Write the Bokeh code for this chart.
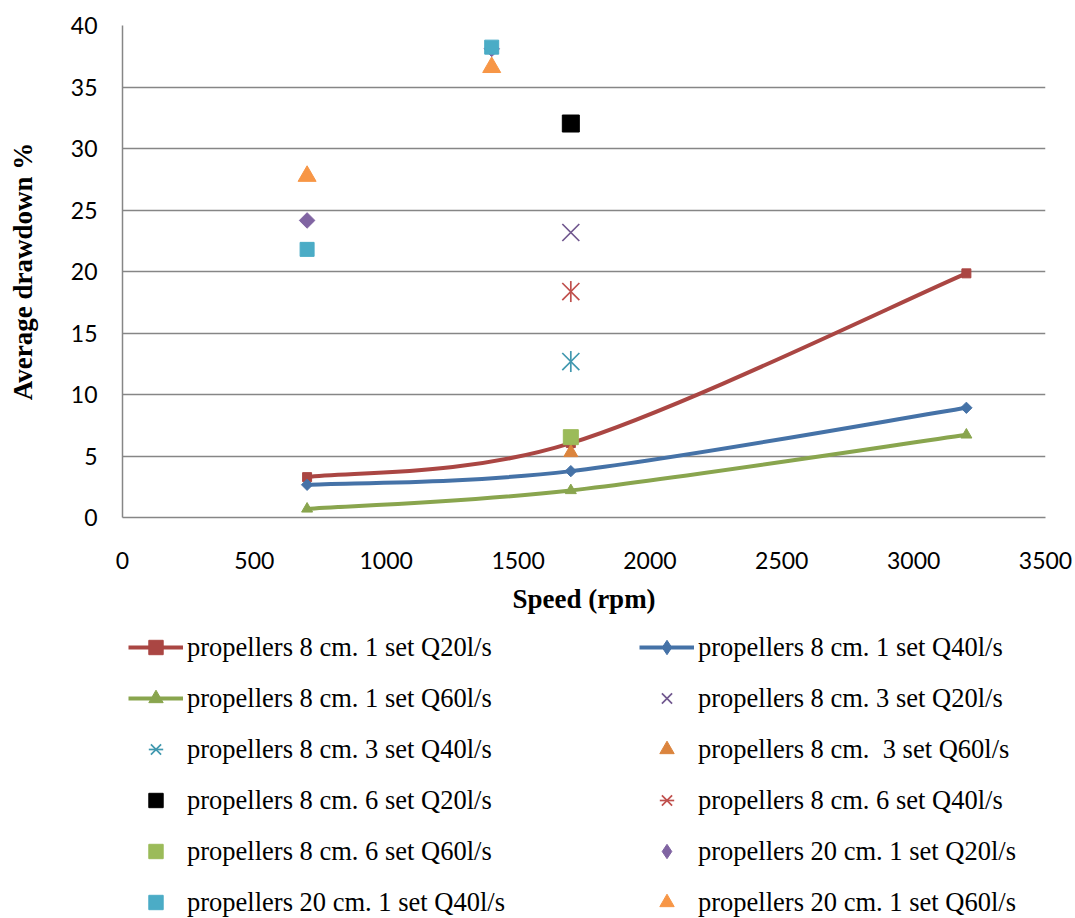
import numpy as np
from bokeh.plotting import figure
from bokeh.layouts import column
from bokeh.models import Range1d, Legend, LegendItem, ColumnDataSource, SingleIntervalTicker
from bokeh.embed import file_html
from bokeh.resources import INLINE

# ---- data ----
speed_1set = [700, 1700, 3200]
q20_1set = [3.28, 6.05, 19.85]
q40_1set = [2.66, 3.77, 8.92]
q60_1set = [0.70, 2.20, 6.72]

speed_8cm_multi = [1700]
q20_3set = [23.17]
q40_3set = [12.68]
q60_3set = [5.28]
q20_6set = [32.03]
q40_6set = [18.37]
q60_6set = [6.53]

speed_20cm = [700, 1400]
q20_20cm = [24.15, 38.1]
q40_20cm = [21.8, 38.24]
q60_20cm = [27.75, 36.6]

x_ticks_step = 500
y_ticks_step = 5

labels = {
    "s1q20": "propellers 8 cm. 1 set Q20l/s",
    "s1q40": "propellers 8 cm. 1 set Q40l/s",
    "s1q60": "propellers 8 cm. 1 set Q60l/s",
    "s3q20": "propellers 8 cm. 3 set Q20l/s",
    "s3q40": "propellers 8 cm. 3 set Q40l/s",
    "s3q60": "propellers 8 cm.  3 set Q60l/s",
    "s6q20": "propellers 8 cm. 6 set Q20l/s",
    "s6q40": "propellers 8 cm. 6 set Q40l/s",
    "s6q60": "propellers 8 cm. 6 set Q60l/s",
    "c20q20": "propellers 20 cm. 1 set Q20l/s",
    "c20q40": "propellers 20 cm. 1 set Q40l/s",
    "c20q60": "propellers 20 cm. 1 set Q60l/s",
}

W = 1075
TOTAL_H = 918
TOP_H = 632
LEG_H = TOTAL_H - TOP_H
p = figure(width=W, height=TOP_H, x_range=Range1d(0, 3500), y_range=Range1d(0, 40),
           output_backend="svg", toolbar_location=None,
           min_border_left=122, min_border_right=30, min_border_top=25, min_border_bottom=TOP_H - 517)
p.outline_line_color = None

# legend-only figure underneath (same series drawn outside its visible range)
p2 = figure(frame_width=W, frame_height=LEG_H, x_range=Range1d(0, 3500), y_range=Range1d(1000, 1001),
            output_backend="svg", toolbar_location=None,
            min_border_left=0, min_border_right=0, min_border_top=0, min_border_bottom=0,
            x_axis_type=None, y_axis_type=None)
p2.outline_line_color = None
p2.xgrid.grid_line_color = None
p2.ygrid.grid_line_color = None

# axes
GRID = "#868686"
for ax in (p.xaxis[0], p.yaxis[0]):
    ax.axis_line_color = GRID
    ax.axis_line_width = 1.5
    ax.major_tick_in = 0
    ax.major_tick_out = 0
    ax.minor_tick_in = 0
    ax.minor_tick_out = 0
    ax.major_label_text_font = "Lato"
    ax.major_label_text_font_size = "23px"
    ax.major_label_text_color = "black"
    ax.axis_label_text_font = "Liberation Serif"
    ax.axis_label_text_font_style = "bold"
    ax.axis_label_text_font_size = "27px"
    ax.axis_label_text_color = "black"

p.xaxis.ticker = SingleIntervalTicker(interval=x_ticks_step)
p.yaxis.ticker = SingleIntervalTicker(interval=y_ticks_step)
p.xaxis.axis_label = "Speed (rpm)"
p.yaxis.axis_label = "Average drawdown %"
p.xaxis.major_label_standoff = 34
p.yaxis.major_label_standoff = 25
p.xaxis.axis_label_standoff = 12
p.yaxis.axis_label_standoff = 30

p.xgrid.grid_line_color = None
p.ygrid.grid_line_color = GRID
p.ygrid.grid_line_width = 1.5
p.ygrid.ticker = SingleIntervalTicker(interval=y_ticks_step)


def smooth(xs, ys):
    """Bezier control points for an Excel-like smoothed line through the given points."""
    xs = np.asarray(xs, float)
    ys = np.asarray(ys, float)
    n = len(xs)
    d = dict(x0=[], y0=[], x1=[], y1=[], cx0=[], cy0=[], cx1=[], cy1=[])
    for i in range(n - 1):
        a = max(i - 1, 0)
        b = min(i + 2, n - 1)
        d["x0"].append(xs[i]); d["y0"].append(ys[i])
        d["x1"].append(xs[i + 1]); d["y1"].append(ys[i + 1])
        d["cx0"].append(xs[i] + (xs[i + 1] - xs[a]) / 6)
        d["cy0"].append(ys[i] + (ys[i + 1] - ys[a]) / 6)
        d["cx1"].append(xs[i + 1] - (xs[b] - xs[i]) / 6)
        d["cy1"].append(ys[i + 1] - (ys[b] - ys[i]) / 6)
    return d


R = {}  # renderers in the legend figure


def mk(fig, marker, angle):
    # the legend draws markers unrotated, so use a diamond there
    if fig is p2 and marker == "square" and angle:
        return "diamond", 0.0
    return marker, angle


def line_series(key, xs, ys, color, marker, size, angle=0.0):
    for fig in (p, p2):
        b = fig.bezier(x0="x0", y0="y0", x1="x1", y1="y1", cx0="cx0", cy0="cy0", cx1="cx1", cy1="cy1",
                       source=ColumnDataSource(smooth(xs, ys)), line_color=color, line_width=4)
        m, a = mk(fig, marker, angle)
        s = fig.scatter(xs, ys, marker=m, size=size, angle=a, fill_color=color, line_color=color)
        if fig is p2:
            R[key] = [b, s]


def point_series(key, xs, ys, color, marker, size, angle=0.0, lw=1.0):
    for fig in (p, p2):
        m, a = mk(fig, marker, angle)
        s = fig.scatter(xs, ys, marker=m, size=size, angle=a, fill_color=color,
                        line_color=color, line_width=lw)
        if fig is p2:
            R[key] = [s]


def star_series(key, xs, ys, color, size):
    for fig in (p, p2):
        s1 = fig.scatter(xs, ys, marker="x", size=size * 1.15, line_color=color, line_width=1.7)
        s2 = fig.scatter(xs, ys, marker="dash", size=size, angle=np.pi / 2, line_color=color, line_width=1.7)
        if fig is p2:
            R[key] = [s1, s2]


line_series("s1q20", speed_1set, q20_1set, "#AA4643", "square", 9)
line_series("s1q40", speed_1set, q40_1set, "#4572A7", "square", 8, angle=np.pi / 4)
line_series("s1q60", speed_1set, q60_1set, "#89A54E", "triangle", 11)

point_series("s3q20", speed_8cm_multi, q20_3set, "#71588F", "x", 24, lw=1.7)
star_series("s3q40", speed_8cm_multi, q40_3set, "#4198AF", 21)
point_series("s3q60", speed_8cm_multi, q60_3set, "#DB843D", "triangle", 14)
point_series("s6q20", speed_8cm_multi, q20_6set, "#000000", "square", 17)
star_series("s6q40", speed_8cm_multi, q40_6set, "#C0504D", 21)
point_series("s6q60", speed_8cm_multi, q60_6set, "#9BBB59", "square", 15)
point_series("c20q20", speed_20cm, q20_20cm, "#8064A2", "square", 11, angle=np.pi / 4)
point_series("c20q40", speed_20cm, q40_20cm, "#4BACC6", "square", 14)
point_series("c20q60", speed_20cm, q60_20cm, "#F79646", "triangle", 18)

left_keys = ["s1q20", "s1q60", "s3q40", "s6q20", "s6q60", "c20q40"]
right_keys = ["s1q40", "s3q20", "s3q60", "s6q40", "c20q20", "c20q60"]


def make_legend(keys, vx):
    lg = Legend(items=[LegendItem(label=labels[k], renderers=R[k]) for k in keys],
                location=(vx, -2), orientation="vertical")
    lg.label_text_font = "Liberation Serif"
    lg.label_text_font_size = "26.5px"
    lg.label_text_color = "black"
    lg.background_fill_alpha = 0
    lg.border_line_alpha = 0
    lg.padding = 0
    lg.margin = 0
    lg.spacing = 15
    lg.glyph_width = 55
    lg.glyph_height = 36
    lg.label_height = 36
    lg.label_standoff = 4
    p2.add_layout(lg, "center")


make_legend(left_keys, 128)
make_legend(right_keys, 639)

layout = column(p, p2, spacing=0)
open("out.html", "w").write(file_html(layout, INLINE))
